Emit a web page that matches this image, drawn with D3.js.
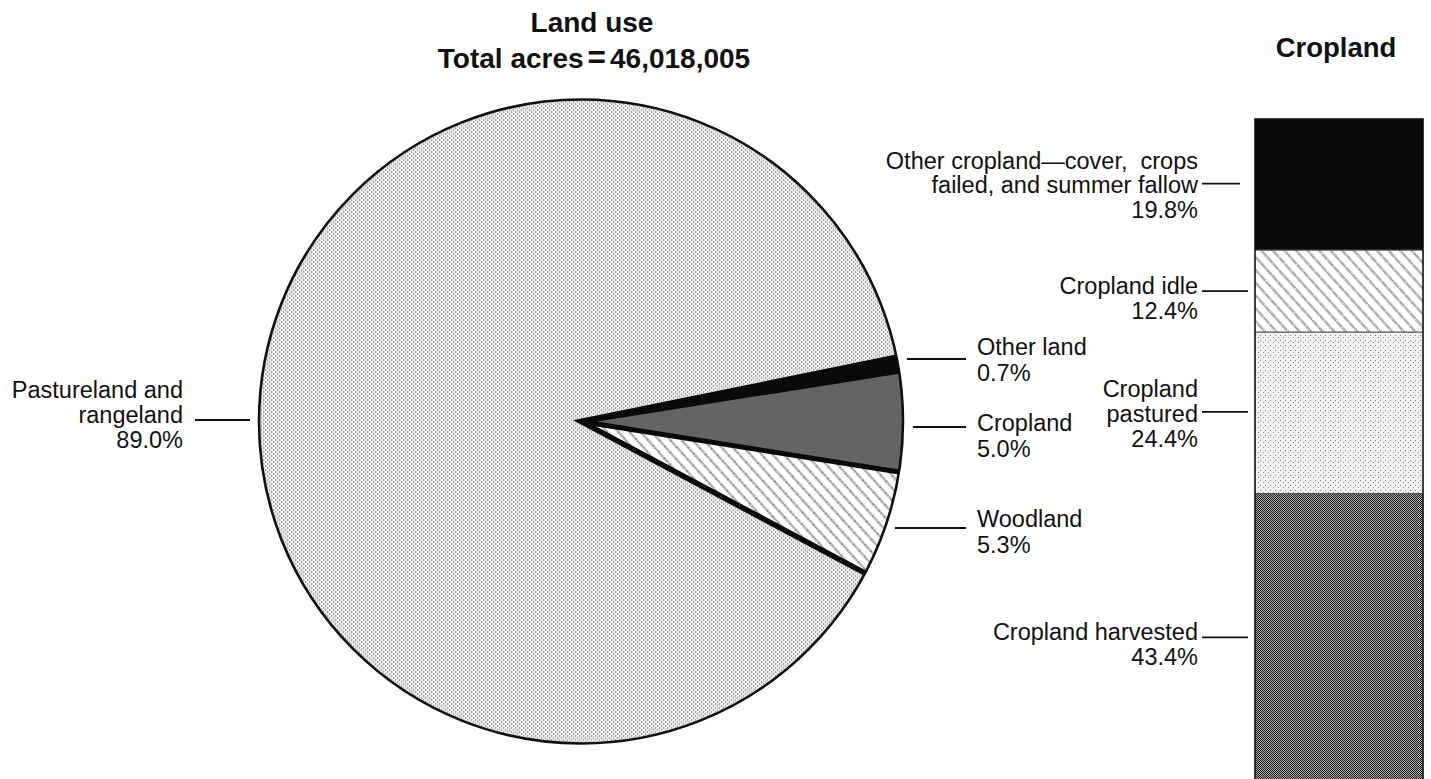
<!DOCTYPE html>
<html><head><meta charset="utf-8">
<script src="https://cdn.jsdelivr.net/npm/d3@7"></script>
<style>
body{margin:0;background:#fff}
text{font-family:"Liberation Sans",Arial,Helvetica,sans-serif;fill:#111;white-space:pre}
</style>
</head><body>
<svg id="chart" width="1431" height="779"></svg>
<script>
// ---- data ----
const landCategories = ["Other land", "Cropland", "Woodland", "Pastureland and rangeland"];
const landValues = [0.7, 5.0, 5.3, 89.0];
const landLabels = [["Other land", "0.7%"], ["Cropland", "5.0%"], ["Woodland", "5.3%"], ["Pastureland and", "rangeland", "89.0%"]];
const cropCategories = ["Other cropland—cover, crops failed, and summer fallow", "Cropland idle", "Cropland pastured", "Cropland harvested"];
const cropValues = [19.8, 12.4, 24.4, 43.4];
const cropLabels = [["Other cropland—cover,  crops", "failed, and summer fallow", "19.8%"], ["Cropland idle", "12.4%"], ["Cropland", "pastured", "24.4%"], ["Cropland harvested", "43.4%"]];
const titleLines = ["Land use", ["Total acres", "=", "46,018,005"]];
const barTitle = "Cropland";

// ---- layout ----
const pieCx = 581, pieCy = 421.5, pieR = 322;
const pieStartDeg = 78.5;
const pieLabelLineY = [359, 427, 528, 420];
const pieFills = ["url(#black)", "url(#dark)", "url(#hatchPie)", "url(#light)"];
const barFills = ["url(#black)", "url(#hatchBar)", "url(#lightBar)", "url(#dark)"];
const barX0 = 1255, barX1 = 1423, barTop = 119, barBottom = 781;
const FS = 23.5, BFS = 27.5;

const svg = d3.select("#chart");
const defs = svg.append("defs");

// patterns
let p = defs.append("pattern").attr("id", "black").attr("patternUnits", "userSpaceOnUse").attr("width", 4).attr("height", 4);
p.append("rect").attr("width", 4).attr("height", 4).attr("fill", "#0a0a0a");

p = defs.append("pattern").attr("id", "light").attr("patternUnits", "userSpaceOnUse").attr("width", 4).attr("height", 4);
p.append("rect").attr("width", 4).attr("height", 4).attr("fill", "#e8e8e8");
p.append("rect").attr("x", 0).attr("y", 0).attr("width", 1).attr("height", 1).attr("fill", "#666");
p.append("rect").attr("x", 2).attr("y", 2).attr("width", 1).attr("height", 1).attr("fill", "#666");

p = defs.append("pattern").attr("id", "lightBar").attr("patternUnits", "userSpaceOnUse").attr("width", 5).attr("height", 5);
p.append("rect").attr("width", 5).attr("height", 5).attr("fill", "#f1f1f1");
p.append("rect").attr("x", 0).attr("y", 0).attr("width", 1).attr("height", 1).attr("fill", "#808080");
p.append("rect").attr("x", 3).attr("y", 2).attr("width", 1).attr("height", 1).attr("fill", "#909090");

p = defs.append("pattern").attr("id", "dark").attr("patternUnits", "userSpaceOnUse").attr("width", 2).attr("height", 2);
p.append("rect").attr("width", 2).attr("height", 2).attr("fill", "#ababab");
p.append("rect").attr("x", 0).attr("y", 0).attr("width", 1).attr("height", 1).attr("fill", "#1c1c1c");
p.append("rect").attr("x", 1).attr("y", 1).attr("width", 1).attr("height", 1).attr("fill", "#1c1c1c");

function hatch(id, gap) {
  const h = defs.append("pattern").attr("id", id).attr("patternUnits", "userSpaceOnUse")
    .attr("width", gap).attr("height", gap).attr("patternTransform", "rotate(-42)");
  h.append("rect").attr("width", gap).attr("height", gap).attr("fill", "#ffffff");
  h.append("line").attr("x1", gap / 2).attr("x2", gap / 2).attr("y1", 0).attr("y2", gap)
    .attr("stroke", "#6e6e6e").attr("stroke-width", 2).attr("stroke-dasharray", "1.4 0.8");
}
hatch("hatchPie", 8.3);
hatch("hatchBar", 8.6);

// ---- titles ----
svg.append("text").attr("x", 592).attr("y", 32).attr("text-anchor", "middle")
  .attr("font-size", BFS + 0.5).attr("font-weight", "bold").text(titleLines[0]);
const t2 = svg.append("text").attr("x", 594).attr("y", 68).attr("text-anchor", "middle")
  .attr("font-size", BFS + 0.5).attr("font-weight", "bold");
t2.append("tspan").text(titleLines[1][0]);
t2.append("tspan").attr("dx", 4).attr("font-size", BFS + 4).text(titleLines[1][1]);
t2.append("tspan").attr("dx", 4).text(titleLines[1][2]);
svg.append("text").attr("x", (barX0 + barX1) / 2 - 3).attr("y", 57).attr("text-anchor", "middle")
  .attr("font-size", BFS).attr("font-weight", "bold").text(barTitle);

// ---- pie ----
const pie = d3.pie().sort(null).value(d => d)
  .startAngle(pieStartDeg * Math.PI / 180).endAngle(pieStartDeg * Math.PI / 180 + 2 * Math.PI);
const arcs = pie(landValues);
const arc = d3.arc().innerRadius(0).outerRadius(pieR);
const g = svg.append("g").attr("transform", `translate(${pieCx},${pieCy})`);
g.selectAll("path.slice").data(arcs).join("path").attr("class", "slice")
  .attr("d", arc).attr("fill", (d, i) => pieFills[i]).attr("stroke", "none");
g.append("circle").attr("r", pieR).attr("fill", "none").attr("stroke", "#111").attr("stroke-width", 2.6);

const edge = a => [pieR * Math.sin(a), -pieR * Math.cos(a)];
const aFirst = arcs[0].startAngle, aLast = arcs[2].endAngle;
const e1 = edge(aFirst), e2 = edge(aLast);
g.append("path").attr("d", `M${e1[0]},${e1[1]}L0,0L${e2[0]},${e2[1]}`)
  .attr("fill", "none").attr("stroke", "#0a0a0a").attr("stroke-width", 5.5)
  .attr("stroke-linejoin", "miter").attr("stroke-miterlimit", 20);
[arcs[0].endAngle, arcs[1].endAngle].forEach(a => {
  const e = edge(a);
  g.append("line").attr("x1", 0).attr("y1", 0).attr("x2", e[0]).attr("y2", e[1])
    .attr("stroke", "#0a0a0a").attr("stroke-width", 5);
});

// pie labels
landLabels.forEach((lines, i) => {
  const ly = pieLabelLineY[i];
  const dx = Math.sqrt(pieR * pieR - (ly - pieCy) * (ly - pieCy));
  if (i < 3) {
    const xs = pieCx + dx + 10;
    svg.append("line").attr("x1", xs).attr("x2", 966).attr("y1", ly).attr("y2", ly)
      .attr("stroke", "#111").attr("stroke-width", 1.8);
    const offs = i === 0 ? -4 : (i === 1 ? 4 : -1);
    lines.forEach((t, k) => {
      svg.append("text").attr("x", 977).attr("y", ly + offs + k * 25.7).attr("font-size", FS).text(t);
    });
  } else {
    const xe = pieCx - dx - 9;
    svg.append("line").attr("x1", 195).attr("x2", xe).attr("y1", ly).attr("y2", ly)
      .attr("stroke", "#111").attr("stroke-width", 1.8);
    lines.forEach((t, k) => {
      svg.append("text").attr("x", 183).attr("y", ly - 22 + k * 25).attr("text-anchor", "end")
        .attr("font-size", FS).text(t);
    });
  }
});

// ---- stacked bar ----
const y = d3.scaleLinear().domain([0, 100]).range([barTop, barBottom]);
const cum = [];
cropValues.reduce((acc, v, i) => { cum[i] = [acc, acc + v]; return acc + v; }, 0);
const bar = svg.append("g");
bar.selectAll("rect.seg").data(cropValues).join("rect").attr("class", "seg")
  .attr("x", barX0).attr("width", barX1 - barX0)
  .attr("y", (d, i) => y(cum[i][0])).attr("height", (d, i) => y(cum[i][1]) - y(cum[i][0]))
  .attr("fill", (d, i) => barFills[i]);
cum.slice(1).forEach(c => {
  bar.append("line").attr("x1", barX0).attr("x2", barX1).attr("y1", y(c[0])).attr("y2", y(c[0]))
    .attr("stroke", "#555").attr("stroke-width", 1.3);
});
bar.append("rect").attr("x", barX0).attr("y", barTop).attr("width", barX1 - barX0).attr("height", barBottom - barTop)
  .attr("fill", "none").attr("stroke", "#111").attr("stroke-width", 1.6);

// bar labels
cropLabels.forEach((lines, i) => {
  const mid = (y(cum[i][0]) + y(cum[i][1])) / 2;
  const ly = lines.length === 3 ? mid - 1 : mid;
  svg.append("line").attr("x1", 1202).attr("x2", i === 0 ? 1240 : 1248).attr("y1", ly).attr("y2", ly)
    .attr("stroke", "#111").attr("stroke-width", 1.8);
  const base = lines.length === 3 ? mid - 16 : mid + 3;
  lines.forEach((t, k) => {
    svg.append("text").attr("x", 1198).attr("y", base + k * 24.8).attr("text-anchor", "end")
      .attr("font-size", FS).text(t);
  });
});
</script>
</body></html>
